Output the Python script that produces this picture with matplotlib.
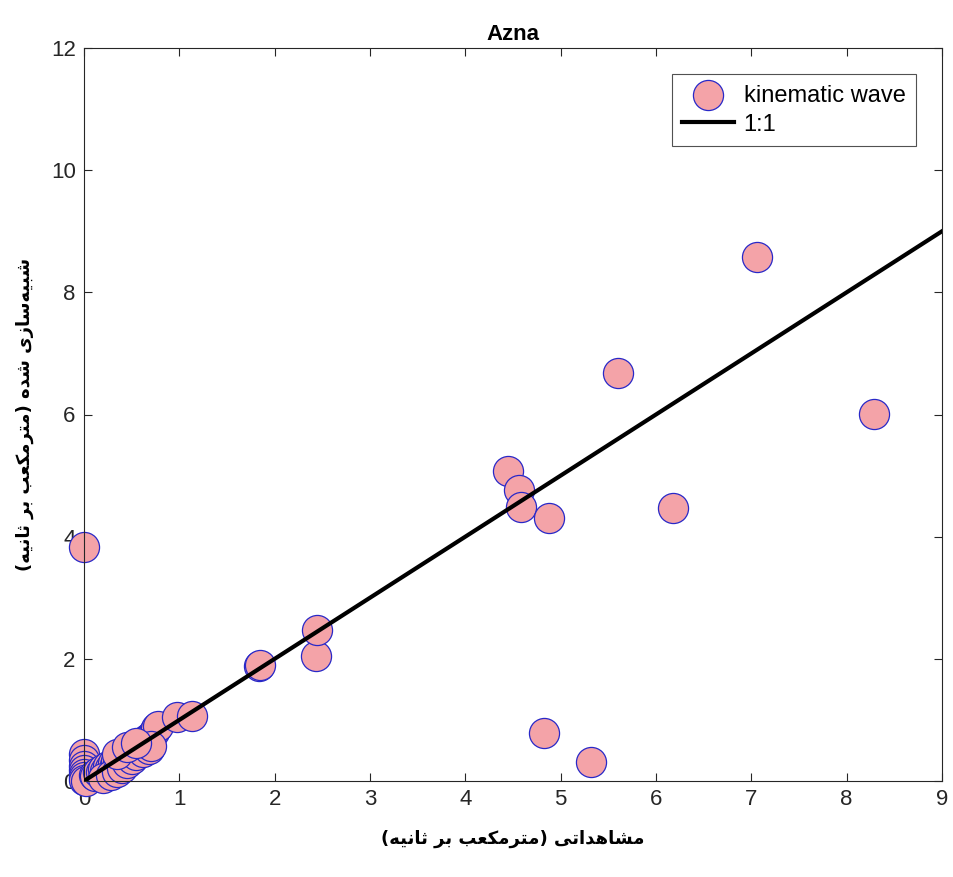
import matplotlib
matplotlib.use("Agg")
import matplotlib.pyplot as plt

# ---- data ----
obs = [0.0, 0.0, 0.0, 0.0, 0.0, 0.0, 0.0, 0.02,
       0.10, 0.12, 0.15, 0.18, 0.20, 0.22, 0.25, 0.27, 0.30, 0.32, 0.34, 0.36,
       0.38, 0.40, 0.42, 0.44, 0.46, 0.48, 0.50, 0.52, 0.54, 0.56, 0.58, 0.60,
       0.62, 0.64, 0.66, 0.70, 0.73, 0.76, 0.78,
       0.20, 0.28, 0.35, 0.40, 0.45, 0.50, 0.55, 0.62, 0.68, 0.70,
       0.35, 0.45, 0.55,
       0.98, 1.13, 1.84, 1.85, 2.43, 2.44, 4.45, 4.56, 4.58, 4.88, 4.82, 5.32,
       5.60, 6.18, 7.06, 8.29, 0.0]
sim = [0.45, 0.35, 0.25, 0.18, 0.12, 0.06, 0.02, 0.0,
       0.10, 0.08, 0.14, 0.15, 0.20, 0.17, 0.24, 0.22, 0.30, 0.27, 0.33, 0.31,
       0.37, 0.38, 0.40, 0.42, 0.44, 0.47, 0.49, 0.50, 0.53, 0.55, 0.56, 0.60,
       0.62, 0.64, 0.68, 0.74, 0.80, 0.86, 0.90,
       0.05, 0.10, 0.15, 0.22, 0.30, 0.36, 0.42, 0.48, 0.52, 0.58,
       0.45, 0.55, 0.62,
       1.05, 1.07, 1.88, 1.90, 2.05, 2.47, 5.07, 4.76, 4.48, 4.30, 0.79, 0.31,
       6.68, 4.47, 8.58, 6.01, 3.83]
line_x = [0, 9]
line_y = [0, 9]
x_ticks = list(range(0, 10))
y_ticks = [0, 2, 4, 6, 8, 10, 12]
title = "Azna"
legend_labels = ["kinematic wave", "1:1"]

# Persian labels in Arabic presentation forms, visual (left-to-right) order
w_mosh = "\uFEF0\uFE97\uFE8D\uFEAA\uFEEB\uFE8E\uFEB8\uFEE3"          # مشاهداتی
w_metr = "\uFE90\uFECC\uFEDC\uFEE3\uFEAE\uFE98\uFEE3"                # مترمکعب
w_bar = "\uFEAE\uFE91"                                              # بر
w_sani = "\uFEEA\uFEF4\uFEE7\uFE8E\uFE9B"                            # ثانیه
w_shabih = "\uFEEF\uFEAF\uFE8E\uFEB3\uFEEA\uFEF4\uFE92\uFEB7"        # شبیه‌سازی
w_shode = "\uFEE9\uFEAA\uFEB7"                                      # شده
unit = "(" + w_sani + " " + w_bar + " " + w_metr + ")"
xlabel = unit + " " + w_mosh
ylabel = unit + " " + w_shode + " " + w_shabih

plt.rcParams['font.family'] = ['Liberation Sans', 'DejaVu Sans']

fig = plt.figure(figsize=(9.54, 8.77), dpi=100)
ax = fig.add_axes([84 / 954, 1 - 781 / 877, (942 - 84) / 954, (781 - 48) / 877])

ax.scatter(obs, sim, s=470, facecolor="#F4A3A8", edgecolor="#2828C8",
           linewidths=0.9, zorder=2, clip_on=False, label=legend_labels[0])
ax.plot(line_x, line_y, color="black", lw=3, zorder=3, label=legend_labels[1])

ax.set_xlim(0, 9)
ax.set_ylim(0, 12)
ax.set_xticks(x_ticks)
ax.set_yticks(y_ticks)
ax.tick_params(direction="in", top=True, right=True, length=6, width=0.8,
               labelsize=16, colors="#262626", pad=6)
for sp in ax.spines.values():
    sp.set_color("#262626")
    sp.set_linewidth(0.8)

ax.set_title(title, fontsize=16, fontweight="bold", pad=6)
ax.set_xlabel(xlabel, fontsize=13, fontweight="bold", family="DejaVu Sans", labelpad=14)
ax.set_ylabel(ylabel, fontsize=13, fontweight="bold", family="DejaVu Sans", labelpad=12)

leg = ax.legend(loc="upper right", fontsize=17, frameon=True, fancybox=False,
                edgecolor="#262626", borderpad=0.45, handlelength=2.2,
                handletextpad=0.4, labelspacing=0.3, borderaxespad=1.1,
                markerscale=1.0)
leg.get_frame().set_linewidth(0.8)

fig.savefig("out.png", dpi=100)
